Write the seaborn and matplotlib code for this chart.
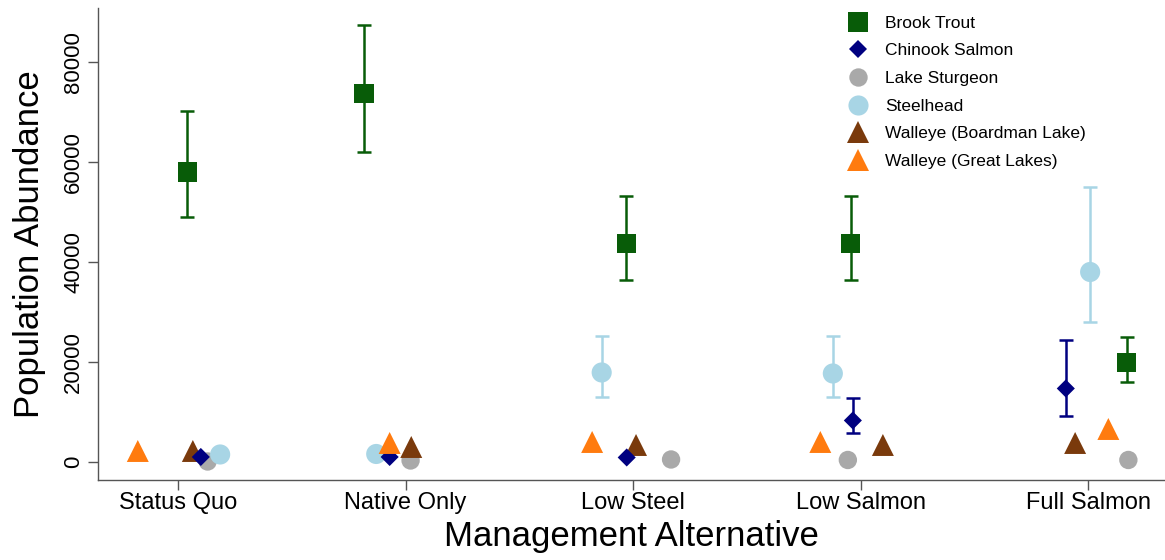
import numpy as np
import pandas as pd
import matplotlib
matplotlib.use("Agg")
import matplotlib.pyplot as plt
from matplotlib.lines import Line2D
import seaborn as sns

alternatives = ["Status Quo", "Native Only", "Low Steel", "Low Salmon", "Full Salmon"]
legend_order = ["Brook Trout", "Chinook Salmon", "Lake Sturgeon", "Steelhead",
                "Walleye (Boardman Lake)", "Walleye (Great Lakes)"]
draw_order = ["Lake Sturgeon", "Steelhead", "Walleye (Boardman Lake)",
              "Chinook Salmon", "Walleye (Great Lakes)", "Brook Trout"]

# mean abundance per alternative, with upper / lower interval ends (nan = no bar)
brook_trout = [58000, 73700, 43700, 43700, 19900]
brook_trout_hi = [70200, 87500, 53200, 53200, 24900]
brook_trout_lo = [48900, 62000, 36400, 36400, 15900]

chinook = [1000, 1000, 900, 8300, 14700]
chinook_hi = [np.nan, np.nan, np.nan, 12700, 24400]
chinook_lo = [np.nan, np.nan, np.nan, 5700, 9100]

sturgeon = [100, 300, 500, 400, 400]

steelhead = [1500, 1600, 17900, 17700, 38000]
steelhead_hi = [np.nan, np.nan, 25200, 25100, 55000]
steelhead_lo = [np.nan, np.nan, 12900, 12900, 28000]

walleye_bl = [2200, 3000, 3400, 3400, 3800]
walleye_gl = [2200, 3800, 4000, 4000, 6600]

# horizontal jitter used in the original figure (category units)
jitter = {
    "Brook Trout": [0.04, -0.183, -0.03, -0.044, 0.17],
    "Chinook Salmon": [0.10, -0.07, -0.028, -0.034, -0.098],
    "Lake Sturgeon": [0.13, 0.022, 0.167, -0.056, 0.177],
    "Steelhead": [0.185, -0.129, -0.138, -0.122, 0.009],
    "Walleye (Boardman Lake)": [0.065, 0.025, 0.013, 0.098, -0.057],
    "Walleye (Great Lakes)": [-0.177, -0.07, -0.18, -0.177, 0.089],
}

values = {
    "Brook Trout": (brook_trout, brook_trout_lo, brook_trout_hi),
    "Chinook Salmon": (chinook, chinook_lo, chinook_hi),
    "Lake Sturgeon": (sturgeon, None, None),
    "Steelhead": (steelhead, steelhead_lo, steelhead_hi),
    "Walleye (Boardman Lake)": (walleye_bl, None, None),
    "Walleye (Great Lakes)": (walleye_gl, None, None),
}

colors = {
    "Brook Trout": "#085C08",
    "Chinook Salmon": "#000080",
    "Lake Sturgeon": "#A9A9A9",
    "Steelhead": "#A8D5E5",
    "Walleye (Boardman Lake)": "#7A3A0C",
    "Walleye (Great Lakes)": "#FF7B0F",
}
markers = {
    "Brook Trout": "s",
    "Chinook Salmon": "D",
    "Lake Sturgeon": "o",
    "Steelhead": "o",
    "Walleye (Boardman Lake)": "^",
    "Walleye (Great Lakes)": "^",
}
sizes = {
    "Brook Trout": 190,
    "Chinook Salmon": 85,
    "Lake Sturgeon": 175,
    "Steelhead": 210,
    "Walleye (Boardman Lake)": 250,
    "Walleye (Great Lakes)": 250,
}

rows = []
for sp in draw_order:
    mean, lo, hi = values[sp]
    for i, alt in enumerate(alternatives):
        rows.append({
            "species": sp,
            "alternative": alt,
            "x": i + jitter[sp][i],
            "abundance": mean[i],
            "lo": np.nan if lo is None else lo[i],
            "hi": np.nan if hi is None else hi[i],
        })
df = pd.DataFrame(rows)

sns.set_style("ticks")
plt.rcParams["font.family"] = ["Liberation Sans", "DejaVu Sans"]
plt.rcParams["text.color"] = "black"
plt.rcParams["axes.labelcolor"] = "black"

fig = plt.figure(figsize=(11.65, 5.6), dpi=100)
ax = fig.add_axes([0.0841, 0.1429, 0.9159, 0.8428])

# error bars
for sp in draw_order:
    d = df[(df["species"] == sp) & df["hi"].notna()]
    if d.empty:
        continue
    ax.errorbar(d["x"], d["abundance"],
                yerr=[d["abundance"] - d["lo"], d["hi"] - d["abundance"]],
                fmt="none", ecolor=colors[sp], elinewidth=1.8,
                capsize=5, capthick=1.8, zorder=2)

sns.scatterplot(data=df, x="x", y="abundance", hue="species", style="species",
                size="species", palette=colors, markers=markers, sizes=sizes,
                linewidth=0, legend=False, ax=ax, zorder=3)

ax.set_xlim(-0.352, 4.338)
ax.set_ylim(-3600, 90800)
ax.set_xticks(range(len(alternatives)))
ax.set_xticklabels(alternatives, fontsize=17)
yt = [0, 20000, 40000, 60000, 80000]
ax.set_yticks(yt)
ax.set_yticklabels([str(v) for v in yt], rotation=90, va="center", fontsize=16)
ax.tick_params(axis="both", direction="out", length=7, width=1,
               color="#555555", labelcolor="black")
ax.tick_params(axis="x", pad=2)
ax.tick_params(axis="y", pad=3)

sns.despine(ax=ax)
for side in ["left", "bottom"]:
    ax.spines[side].set_color("#555555")
    ax.spines[side].set_linewidth(1)

ax.set_xlabel("Management Alternative", fontsize=25, labelpad=4, color="black")
ax.set_ylabel("Population Abundance", fontsize=25, labelpad=12, color="black")
ax.grid(False)

handles = [Line2D([], [], linestyle="none", marker=markers[sp],
                  markersize=np.sqrt(sizes[sp]), markerfacecolor=colors[sp],
                  markeredgewidth=0, label=sp) for sp in legend_order]
leg = fig.legend(handles=handles, loc="upper left", bbox_to_anchor=(0.7243, 0.972),
                 frameon=False, fontsize=12.5, handlelength=1.6, handletextpad=0.77,
                 labelspacing=0.72, borderpad=0, borderaxespad=0)
for t in leg.get_texts():
    t.set_color("black")

fig.savefig("out.png", dpi=100)
